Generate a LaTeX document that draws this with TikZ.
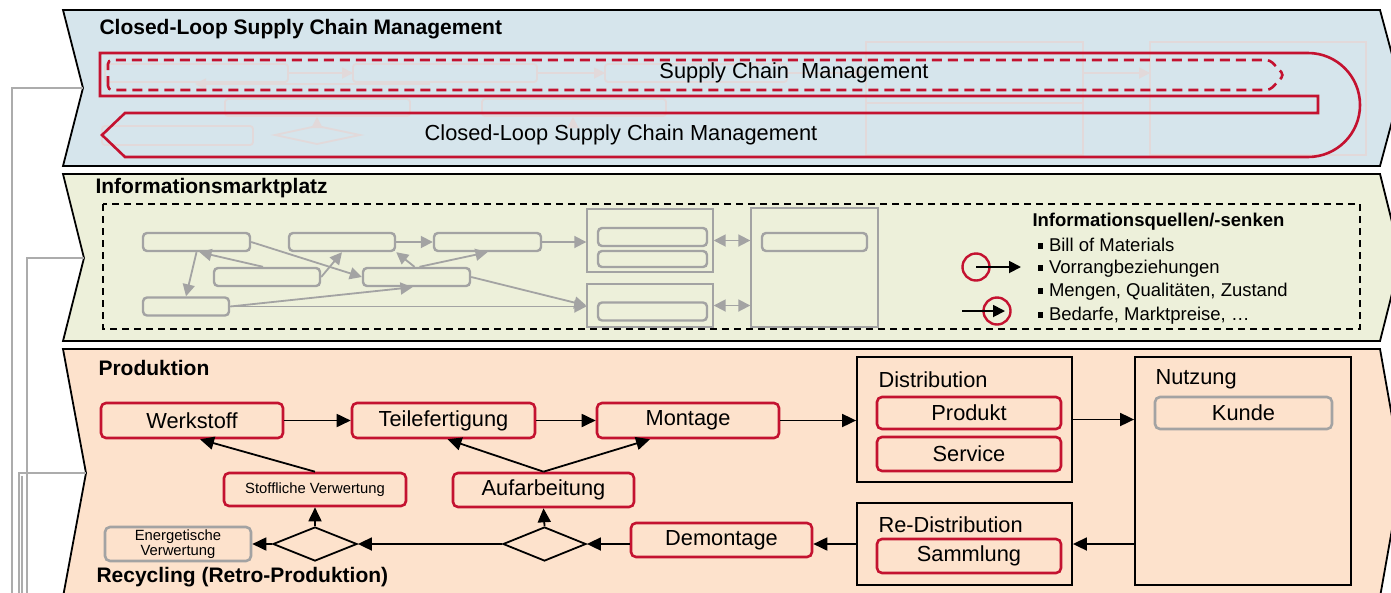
\documentclass[tikz,border=0pt]{standalone}
\usepackage{fontspec}
\setmainfont{Liberation Sans}
\usetikzlibrary{arrows.meta,shapes.geometric,calc}

\definecolor{crim}{RGB}{196,18,48}
\definecolor{bluefill}{RGB}{214,229,236}
\definecolor{greenfill}{RGB}{237,240,218}
\definecolor{peach}{RGB}{253,226,204}
\definecolor{midgray}{RGB}{163,163,163}
\definecolor{faintc}{RGB}{226,217,218}
\definecolor{linegray}{RGB}{172,172,172}

\newcommand{\fsTitle}{\fontsize{21}{24}\selectfont\bfseries}
\newcommand{\fsLabel}{\fontsize{21.8}{24}\selectfont}
\newcommand{\fsSmall}{\fontsize{14.8}{16.5}\selectfont}
\newcommand{\fsLegend}{\fontsize{18.5}{22}\selectfont}
\newcommand{\sqbullet}{\raisebox{3pt}{\rule{5.5pt}{5.5pt}}\hspace{6pt}}

\tikzset{
  panel/.style={draw=black, line width=1.8},
  redbox/.style={draw=crim, line width=2.6, rounded corners=5, inner sep=0, font=\fsLabel},
  graybox/.style={draw=midgray, line width=2.6, rounded corners=5, inner sep=0, font=\fsLabel},
  blackbox/.style={draw=black, line width=1.8, inner sep=0},
  decision/.style={diamond, draw=black, line width=1.8, inner sep=0},
  flow/.style={draw=black, line width=1.8, -{Triangle[length=14pt,width=13pt]}},
  gbox/.style={draw=midgray, line width=2.4, rounded corners=4, inner sep=0, minimum height=18},
  ggroup/.style={draw=midgray, line width=1.4, inner sep=0},
  garrow/.style={draw=midgray, line width=1.8, -{Triangle[length=12pt,width=12pt]}},
  gdouble/.style={draw=midgray, line width=1.8, {Triangle[length=12pt,width=12pt]}-{Triangle[length=12pt,width=12pt]}},
  faint/.style={draw=faintc, line width=1.8},
  faintbox/.style={draw=faintc, line width=1.8, rounded corners=3},
  faintarrow/.style={draw=faintc, line width=1.8, -{Triangle[length=11pt,width=11pt]}},
  sideline/.style={draw=linegray, line width=1.6},
}

\begin{document}
\begin{tikzpicture}[x=1pt, y=1pt]
\useasboundingbox (0,0) rectangle (1391,-592);
\clip (0,0) rectangle (1391,-592);

% ---------- three chevron panels ----------
\fill[white] (0,0) rectangle (1391,-592);
\draw[panel, fill=bluefill]  (63,-10) -- (1380,-10) -- (1401,-88) -- (1380,-166) -- (63,-166) -- (83,-88) -- cycle;
\draw[panel, fill=greenfill] (63,-174) -- (1380,-174) -- (1401,-258) -- (1380,-341) -- (63,-341) -- (84,-258) -- cycle;
\draw[panel, fill=peach]     (63,-349) -- (1380,-349) -- (1402,-473) -- (1380,-597) -- (63,-597) -- (86,-473) -- cycle;

\coordinate (n1) at (83,-88);
\coordinate (n2) at (84,-258);
\coordinate (n3) at (86,-473);
\coordinate (e1) at (12,-600);
\coordinate (e2) at (27,-600);
\coordinate (e3) at (19,-600);
\coordinate (e4) at (22,-600);

% links leaving the panels to the left
\draw[sideline] (n1) -- (n1 -| e1) -- (e1);
\draw[sideline] (n2) -- (n2 -| e2) -- (e2);
\draw[sideline] (n3) -- (n3 -| e3) -- (e3);
\draw[sideline] ($(n3 -| e4)+(0,-3)$) -- (e4);

% ---------- panel 1: supply chain loop ----------
% faded process sketch in the background
\draw[faintbox] (105,-64) rectangle (288,-82);
\draw[faintbox] (353,-64) rectangle (537,-82);
\draw[faintbox] (605,-64) rectangle (787,-82);
\draw[faintbox] (225,-99) rectangle (410,-116);
\draw[faintbox] (482,-99) rectangle (666,-116);
\draw[faintbox] (102,-126) rectangle (253,-145);
\draw[faint] (275,-135) -- (317,-126) -- (360,-135) -- (317,-144) -- cycle;
\draw[faintarrow] (288,-73) -- (353,-73);
\draw[faintarrow] (537,-73) -- (605,-73);
\draw[faintarrow] (787,-73) -- (866,-73);
\draw[faintarrow] (1083,-73) -- (1150,-73);
\draw[faintarrow] (430,-84) -- (195,-84);
\draw[faintarrow] (317,-126) -- (317,-117);
\draw[faintarrow] (573,-126) -- (573,-117);
\draw[faint] (866,-42) rectangle (1083,-155);
\draw[faint] (866,-103) -- (1083,-103);
\draw[faint] (1150,-42) rectangle (1366,-155);

\draw[crim, line width=2.6] (100,-53) -- (1308,-53) arc[start angle=90, end angle=-90, radius=52pt]
  -- (125,-157) -- (102,-135) -- (125,-113) -- (1318,-113) -- (1318,-96) -- (100,-96) -- cycle;
\draw[crim, line width=2.6, dash pattern=on 10pt off 6pt, rounded corners=4]
  (108,-90) -- (108,-60) -- (1270,-60) -- (1284,-75) -- (1270,-90) -- cycle;

\node[anchor=west, font=\fsTitle] (t1) at (96,-29) {Closed-Loop Supply Chain Management};
\node[font=\fsLabel] (scm) at (794,-73) {Supply Chain\ \ Management};
\node[font=\fsLabel] (clscm) at (621,-135) {Closed-Loop Supply Chain Management};

% ---------- panel 2: information marketplace ----------
\node[anchor=west, font=\fsTitle] (t2) at (92,-188) {Informationsmarktplatz};
\draw[black, line width=1.8, dash pattern=on 7pt off 5pt] (103,-204) rectangle (1360,-329);

\node[gbox, minimum width=107] (g1) at (196.5,-242) {};
\node[gbox, minimum width=106] (g2) at (342,-242) {};
\node[gbox, minimum width=107] (g3) at (487.5,-242) {};
\node[gbox, minimum width=106] (g4) at (267,-277) {};
\node[gbox, minimum width=107] (g5) at (416.5,-277) {};
\node[gbox, minimum width=86]  (g6) at (186,-306.5) {};

\node[ggroup, minimum width=126, minimum height=63] (G1) at (650,-240.5) {};
\node[gbox, minimum width=109] (G1a) at (652.5,-237) {};
\node[gbox, minimum width=109, minimum height=16] (G1b) at (652.5,-259) {};
\node[ggroup, minimum width=126, minimum height=43] (G2) at (650,-305.5) {};
\node[gbox, minimum width=109] (G2a) at (652.5,-311.5) {};
\node[ggroup, minimum width=127, minimum height=119] (G3) at (814.5,-267.5) {};
\node[gbox, minimum width=105] (G3a) at (814.5,-242) {};

\draw[garrow] (g2.east) -- (g3.west);
\draw[garrow] (g3.east) -- (g3.east -| G1.west);
\draw[garrow] (g1.south) -- (g6.north);
\draw[garrow] ($(g4.north)+(-4,0)$) -- ($(g1.south)+(3,0)$);
\draw[garrow] (g4.east) -- (g2.south);
\draw[garrow] (g1.east) -- (g5.west);
\draw[garrow] ($(g5.north)+(-2,0)$) -- (g2.south east);
\draw[garrow] ($(g5.north)+(3,0)$) -- (g3.south);
\draw[garrow] (g6.east) -- ($(g5.south)+(-4,0)$);
\draw[garrow] (g6.east) -- (g6.east -| G2.west);
\draw[garrow] (g5.east) -- (G2.west);
\draw[gdouble] (G1.east) -- (G1.east -| G3.west);
\draw[gdouble] (G2.east) -- (G2.east -| G3.west);

% legend: sources and sinks
\node[anchor=west, font=\fontsize{18.5}{22}\selectfont\bfseries] (lh) at (1029,-222) {Informationsquellen/-senken};
\node[anchor=west, font=\fsLegend] (l1) at (1034,-245) {\sqbullet Bill of Materials};
\node[anchor=west, font=\fsLegend] (l2) at (1034,-269) {\sqbullet Vorrangbeziehungen};
\node[anchor=west, font=\fsLegend] (l3) at (1034,-292) {\sqbullet Mengen,\ Qualitäten,\ Zustand};
\node[anchor=west, font=\fsLegend] (l4) at (1034,-316) {\sqbullet Bedarfe, Marktpreise,\ …};

\node[circle, draw=crim, line width=2.4, minimum size=27, inner sep=0] (src) at (976,-267) {};
\coordinate (srcend) at (1021,-267);
\draw[flow, -{Triangle[length=12pt,width=12pt]}] (src.center) -- (srcend);
\node[circle, draw=crim, line width=2.4, minimum size=27, inner sep=0] (snk) at (997,-311) {};
\coordinate (snkstart) at (962,-311);
\draw[flow, -{Triangle[length=12pt,width=12pt]}] (snkstart) -- ($(snk.center)+(8,0)$);

% ---------- panel 3: production and recycling ----------
\node[anchor=west, font=\fsTitle] (t3) at (95,-368) {Produktion};
\node[anchor=west, font=\fsTitle] (t4) at (93,-577) {Recycling (Retro-Produktion)};

\node[redbox, minimum width=182, minimum height=35] (werk) at (192,-420.5) {Werkstoff};
\node[redbox, minimum width=183, minimum height=35] (teil) at (443.5,-420.5) {Teilefertigung};
\node[redbox, minimum width=182, minimum height=35] (mont) at (688,-420.5) {Montage};

\node[blackbox, minimum width=215, minimum height=125] (dist) at (964.5,-419.5) {};
\node[anchor=west, font=\fsLabel] (distl) at (875,-380) {Distribution};
\node[redbox, minimum width=184, minimum height=32] (prod) at (969,-413) {Produkt};
\node[redbox, minimum width=184, minimum height=34] (serv) at (969,-454) {Service};

\node[blackbox, minimum width=216, minimum height=228] (nutz) at (1243,-471) {};
\node[anchor=west, font=\fsLabel] (nutzl) at (1152,-379) {Nutzung};
\node[graybox, minimum width=177, minimum height=32] (kunde) at (1243.5,-413) {Kunde};

\node[blackbox, minimum width=215, minimum height=82] (redist) at (964.5,-544) {};
\node[anchor=west, font=\fsLabel] (redistl) at (875,-525) {Re-Distribution};
\node[redbox, minimum width=184, minimum height=34] (samm) at (969,-556) {Sammlung};

\node[redbox, minimum width=181, minimum height=34] (demo) at (721.5,-540) {Demontage};
\node[redbox, minimum width=181, minimum height=34] (auf) at (543.5,-490) {Aufarbeitung};
\node[redbox, minimum width=182, minimum height=33, font=\fsSmall] (stoff) at (315,-489.5) {Stoffliche Verwertung};
\node[graybox, minimum width=146, minimum height=34, font=\fsSmall, align=center] (energ) at (178,-544) {Energetische\\[-1.5pt]Verwertung};

\node[decision, minimum width=84, minimum height=34] (dia1) at (315,-544) {};
\node[decision, minimum width=83, minimum height=34] (dia2) at (544.5,-544) {};

\draw[flow] (werk.east) -- (teil.west);
\draw[flow] (teil.east) -- (mont.west);
\draw[flow] (mont.east) -- (mont.east -| dist.west);
\draw[flow] (dist.east) -- (dist.east -| nutz.west);
\draw[flow] (nutz.west |- redist.east) -- (redist.east);
\draw[flow] (redist.west) -- (redist.west -| demo.east);
\draw[flow] (dia2.east -| demo.west) -- (dia2.east);
\draw[flow] (dia2.west) -- (dia1.east);
\draw[flow] (dia1.west) -- (energ.east);
\draw[flow] (dia1.north) -- (stoff.south);
\draw[flow] (dia2.north) -- (auf.south);
\draw[flow] (auf.north) -- ($(teil.south)+(4,0)$);
\draw[flow] (auf.north) -- ($(mont.south)+(-38,0)$);
\draw[flow] (stoff.north) -- ($(werk.south)+(8,0)$);
\end{tikzpicture}
\end{document}
